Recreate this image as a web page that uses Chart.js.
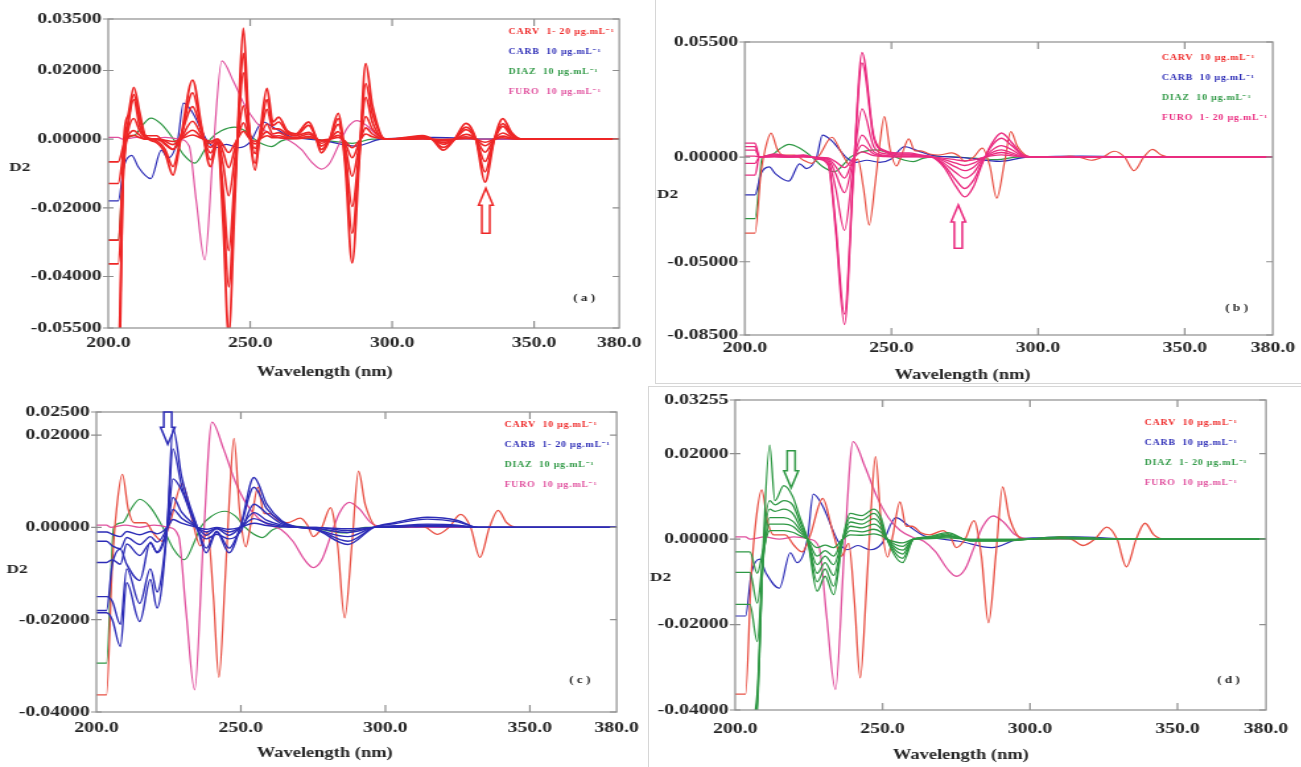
<!DOCTYPE html>
<html>
<head>
<meta charset="utf-8">
<script src="https://cdn.jsdelivr.net/npm/chart.js@4.4.0/dist/chart.umd.min.js"></script>
<style>
  html, body { margin: 0; padding: 0; background: #fff; }
  body { width: 1301px; height: 767px; position: relative; overflow: hidden; }
  /* the source figure is stretched sideways, so each panel is drawn narrow and scaled */
  .panel { position: absolute; transform-origin: 0 0; transform: scaleX(1.32); }
  .rule { position: absolute; background: #d6d6d6; }
</style>
</head>
<body>
<div class="rule" style="left:655px;top:0;width:1px;height:383px"></div>
<div class="rule" style="left:655px;top:383px;width:646px;height:1px"></div>
<div class="rule" style="left:648px;top:386px;width:653px;height:1px"></div>
<div class="rule" style="left:648px;top:386px;width:1px;height:381px"></div>

<div class="panel" style="left:0;top:0;width:492px;height:385px"><canvas id="ca"></canvas></div>
<div class="panel" style="left:655px;top:0;width:489px;height:383px"><canvas id="cb"></canvas></div>
<div class="panel" style="left:0;top:385px;width:491px;height:382px"><canvas id="cc"></canvas></div>
<div class="panel" style="left:648px;top:386px;width:495px;height:381px"><canvas id="cd"></canvas></div>

<script>
// wavelength grids (nm), one per drug
const wlCarv = [200, 203.5, 205.5, 207, 209, 211, 213, 217, 220, 222.8, 225.5, 229.7, 233, 236, 238.5, 240.5, 242.4, 244.5, 246, 247.6, 249.5, 251.7, 253.5, 255.9, 258, 260, 263, 266, 270.6, 273, 275, 278, 281, 283.5, 285.9, 288.5, 290.7, 293, 297.6, 305, 310.7, 314, 318, 322, 326, 329.5, 332.7, 336, 339, 342, 345.5, 360, 380];
const wlCarb = [200, 203.5, 205.5, 208.3, 210.5, 215, 218.7, 221, 224.5, 226.5, 229.5, 234.9, 238, 241.6, 245.9, 249.8, 254.5, 259, 264, 268, 276, 287, 296, 303, 314.5, 325, 332, 345, 380];
const wlDiaz = [200, 203.5, 206, 209, 212, 215, 218.5, 223, 226.5, 230.5, 234, 236, 240, 244.5, 248, 251.5, 254.5, 257.5, 261, 268, 278, 286, 293, 310, 330, 380];
const wlDiazD = [200, 205, 207.5, 209.5, 211.7, 213.5, 216.5, 219.5, 222, 224.5, 227.8, 230.5, 233.4, 236.5, 239, 243, 247, 249.5, 251.5, 256.8, 260.5, 265, 272, 280, 290, 310, 330, 380];
const wlFuro = [200, 203.5, 205, 210, 215, 220, 225, 228.5, 231, 234, 237, 240, 244, 248, 252, 256, 260, 264, 268, 272, 275, 278, 281, 284, 287.5, 291, 295, 300, 330, 380];

// D2 values, in units of 0.001
const carv20 = [-75, -75, 0, 7, 15.1, 8, 1, -1, -4, -10.5, 0, 17.2, 3, -8, -1, -25, -57, -20, 10, 32.3, 5, -9, 2, 14.8, 5, 6.4, 2.5, 1.5, 5, 1, -4, 0, 7.5, -8, -36, -5, 22, 10, 0, 0.5, 1, 0, -3.2, 0, 4.6, 0, -12.5, 0, 6, 2, 0, 0, 0];
const carv15 = [-62, -62, -4, 5, 13, 6, 1, -0.5, -3, -8, 0, 13.5, 2.5, -6, -1, -19, -43, -15, 7.5, 25, 4, -7, 1.5, 11.5, 4, 5, 2, 1, 4, 0.8, -3, 0, 6, -6, -27.4, -4, 16.2, 7.5, 0, 0.4, 0.8, 0, -2.4, 0, 3.5, 0, -9.5, 0, 4.5, 1.5, 0, 0, 0];
const carv10 = [-36.3, -36.3, -8, 4, 11.5, 4, 1, 1, -1.5, -3, 1, 9.5, 2, -4, -1, -15, -32.5, -12, 6, 19.3, 4, -4.2, 1, 8.7, 3, 3, 1.5, 1, 2, 0.5, -2, 0, 4.3, -4, -19.6, -3, 12.2, 5, 0, 0, 0.5, 0, -1.5, 0, 2.8, 0, -6.5, 0, 3.7, 1, 0, 0, 0];
const carv6 = [-29.4, -29.4, -6, 2.5, 6, 2.5, 0.5, 0, -1.2, -3, 0, 5.2, 1, -2.4, -0.5, -7.5, -16.5, -6, 3, 9.7, 1.5, -2.7, 0.6, 4.4, 1.5, 1.9, 0.8, 0.5, 1.5, 0.3, -1.2, 0, 2.2, -2.4, -10.8, -1.5, 6.6, 3, 0, 0, 0.3, 0, -1, 0, 1.4, 0, -3.8, 0, 1.8, 0.6, 0, 0, 0];
const carv3 = [-12.9, -12.9, -3, 1, 2.5, 1.2, 0, 0, -0.6, -1.6, 0, 2.6, 0.5, -1.2, 0, -3.8, -8.3, -3, 1.5, 4.8, 0.8, -1.4, 0.3, 2.2, 0.8, 1, 0.4, 0.2, 0.8, 0.2, -0.6, 0, 1.1, -1.2, -5.4, -0.8, 3.3, 1.5, 0, 0, 0.2, 0, -0.5, 0, 0.7, 0, -1.9, 0, 0.9, 0.3, 0, 0, 0];
const carv1 = [-6.6, -6.6, -1.5, 0.5, 1.1, 0.5, 0, 0, -0.3, -0.7, 0, 1.2, 0.2, -0.6, 0, -1.8, -3.9, -1.4, 0.7, 2.3, 0.4, -0.6, 0.1, 1, 0.4, 0.4, 0.2, 0.1, 0.4, 0.1, -0.3, 0, 0.5, -0.6, -2.5, -0.4, 1.5, 0.7, 0, 0, 0.1, 0, -0.2, 0, 0.3, 0, -0.9, 0, 0.4, 0.1, 0, 0, 0];

const carb20 = [-18.5, -18.5, -20, -25.8, -12, -20.4, -11.3, -17.5, 0, 21.5, 11, 0, -5.5, -1, -5.5, 0, 10.8, 5, 1.5, 0.3, -0.5, -3.7, 0, 1, 2.2, 1.5, 0, 0, 0];
const carb16 = [-15, -15, -16, -21, -9, -16.5, -9, -14, 0, 17, 9, 0, -4.5, -0.8, -4.5, 0, 8.7, 4, 1.2, 0.2, -0.4, -3, 0, 0.8, 1.8, 1.2, 0, 0, 0];
const carb10 = [-18, -18, -8, -4.7, -8, -11.5, -3.2, -5.5, 0, 10.5, 8, -0.5, -2.5, -1.5, -2.5, -1, 5, 3, 0.8, 0.2, -0.5, -2, 0, 0.3, 0.5, 0.3, 0, 0, 0];
const carb6 = [-7.6, -7.6, -7, -8, -3.6, -6.1, -3.4, -5.3, 0, 6.5, 3.3, 0, -1.7, -0.3, -1.7, 0, 3.2, 1.5, 0.5, 0.1, -0.2, -1.1, 0, 0.3, 0.7, 0.5, 0, 0, 0];
const carb3 = [-3, -3, -4, -4.6, -2.2, -3.7, -2, -3.2, 0, 3.9, 2, 0, -1, -0.2, -1, 0, 1.9, 0.9, 0.3, 0, 0, -0.7, 0, 0.2, 0.4, 0.3, 0, 0, 0];
const carb1 = [-1, -1, -1.5, -2, -0.9, -1.6, -0.9, -1.4, 0, 1.7, 0.9, 0, -0.4, 0, -0.4, 0, 0.9, 0.4, 0.1, 0, 0, -0.3, 0, 0, 0.2, 0.1, 0, 0, 0];

const diaz10 = [-29.4, -29.4, 0, 1, 4, 6.1, 4.5, 0, -4.5, -7, -3, 0, 2.5, 3.5, 2.5, 0, -1.5, -2.2, -0.5, 0.3, -0.5, -1.2, 0, 0, 0, 0];
const diaz20 = [-48, -48, -40, -2, 22, 9, 12.5, 10, 5, 0, -12.2, -8.7, -13, 0, 6, 5.5, 7, 5, 0, -5.5, 0, 0.5, 1.5, -0.5, -0.5, 0.5, 0, 0];
const diaz15 = [-45, -45, -38, -3, 9, 8, 9, 8, 4, 0, -10, -7, -11, 0, 5, 4.5, 6, 4, 0, -4.5, 0, 0.4, 1.2, -0.4, -0.4, 0.4, 0, 0];
const diaz10d = [-43, -43, -36, -4, 7, 6.5, 7, 6, 3, 0, -8, -5.5, -8.5, 0, 4, 3.5, 4.8, 3.2, 0, -3.5, 0, 0.3, 0.9, -0.3, -0.3, 0.3, 0, 0];
const diaz6 = [-15.3, -15.3, -24, -5, 5, 5, 5, 4.2, 2.2, 0, -6, -4, -6, 0, 3, 2.6, 3.5, 2.4, 0, -2.6, 0, 0.2, 0.7, -0.2, -0.2, 0.2, 0, 0];
const diaz3 = [-7.8, -7.8, -15, -4, 3.5, 3.5, 3.5, 3, 1.5, 0, -4, -2.7, -4, 0, 2, 1.7, 2.3, 1.6, 0, -1.7, 0, 0.1, 0.5, -0.1, -0.1, 0.1, 0, 0];
const diaz1 = [-3, -3, -8, -2.5, 2, 2, 2, 1.6, 0.8, 0, -2, -1.4, -2, 0, 1, 0.9, 1.2, 0.8, 0, -0.9, 0, 0.1, 0.3, -0.1, -0.1, 0.1, 0, 0];

const furo10 = [0.5, 0.5, 0, 0.5, 0, 0.5, 0, -2, -18, -35.2, -3, 22.8, 17, 10, 5, 2, 0.5, -0.5, -3, -7, -8.7, -7, -2, 3, 5.4, 4, 1, 0, 0, 0];
const furo20 = [6.7, 6.7, 0, 1.5, 0.5, 1, -1, -4, -35, -80, -10, 50, 10, 3, 2, 2, 1, 0, -5, -14, -19, -14, -3, 6, 11.5, 7, 1, 0, 0, 0];
const furo15 = [5, 5, 0, 1, 0.4, 0.8, -0.8, -3, -32, -75, -9, 45, 9, 2.5, 1.5, 1.5, 0.8, 0, -4, -11, -15, -11, -2.5, 5, 9, 5.5, 0.8, 0, 0, 0];
const furo10b = [3.3, 3.3, 0, 0.6, 0.2, 0.4, -0.5, -2, -15, -35, -4, 23, 5, 1.5, 1, 1, 0.5, 0, -3, -7.5, -10, -7.5, -1.5, 3, 5.5, 3.5, 0.5, 0, 0, 0];
const furo6 = [-8.6, -8.6, 0, 0.4, 0.1, 0.3, -0.3, -1.2, -8, -17, -2, 10.5, 2.5, 0.8, 0.5, 0.5, 0.3, 0, -2, -4.8, -6.5, -4.8, -1, 2, 3.5, 2, 0.3, 0, 0, 0];
const furo3 = [-3, -3, 0, 0.2, 0, 0.2, -0.2, -0.8, -4.5, -10, -1, 5.7, 1.5, 0.5, 0.3, 0.3, 0.2, 0, -1.2, -2.9, -4, -2.9, -0.6, 1.2, 2.2, 1.2, 0.2, 0, 0, 0];
const furo1 = [0.5, 0.5, 0, 0.1, 0, 0.1, -0.1, -0.4, -2.2, -5, -0.5, 2.5, 0.7, 0.2, 0.1, 0.1, 0.1, 0, -0.6, -1.3, -1.8, -1.3, -0.3, 0.6, 1.1, 0.6, 0.1, 0, 0, 0];

// axis ticks
const xTicks = [200, 250, 300, 350, 380];
const yTicksA = [35, 20, 0, -20, -40, -55];
const yTicksB = [55, 0, -50, -85];
const yTicksC = [25, 20, 0, -20, -40];
const yTicksD = [32.55, 20, 0, -20, -40];

const RED = '#ee2626';
const RED_SOFT = '#e85044';
const BLUE = '#2c2cb6';
const GREEN = '#2e9844';
const PINK = '#e0509e';
const PINK_HOT = '#ea2c80';
const INK = '#262626';
const FRAME = '#8e8e8e';
const SERIF = '"Liberation Serif", "Times New Roman", serif';

const line = (wl, vals, color, w) => ({
    data: wl.map((x, i) => ({ x: x, y: vals[i] })),
    borderColor: color,
    borderWidth: w,
    pointRadius: 0,
    cubicInterpolationMode: 'monotone',
    fill: false
});

const conc = ' µg.mL⁻¹';

const panels = [
    {
        id: 'ca', yMin: -55, yMax: 35, yTicks: yTicksA,
        padTop: 19, padRight: 17, yW: 82, xH: 57, tickPadX: 6,
        sets: [
            line(wlCarv, carv20, RED, 1.8), line(wlCarv, carv15, RED, 1.7), line(wlCarv, carv10, RED, 1.7),
            line(wlCarv, carv6, RED, 1.6), line(wlCarv, carv3, RED, 1.6), line(wlCarv, carv1, RED, 1.6),
            line(wlFuro, furo10, PINK, 1.2), line(wlCarb, carb10, BLUE, 1.2), line(wlDiaz, diaz10, GREEN, 1.2)
        ],
        legend: [['CARV  1- 20' + conc, RED], ['CARB  10' + conc, BLUE], ['DIAZ  10' + conc, GREEN], ['FURO  10' + conc, PINK]],
        legX: 84, legY: 13, letter: '( a )', letX: 35, letY: 30, d2: [7, 168], title: [246, 372],
        arrow: { wl: 333, tip: -14.3, tail: -27.4, color: RED }
    },
    {
        id: 'cb', yMin: -85, yMax: 55, yTicks: yTicksB,
        padTop: 42, padRight: 21, yW: 68, xH: 48, tickPadX: 4,
        sets: [
            line(wlFuro, furo20, PINK_HOT, 1.4), line(wlFuro, furo15, PINK_HOT, 1.4), line(wlFuro, furo10b, PINK_HOT, 1.3),
            line(wlFuro, furo6, PINK_HOT, 1.3), line(wlFuro, furo3, PINK_HOT, 1.3), line(wlFuro, furo1, PINK_HOT, 1.3),
            line(wlCarv, carv10, RED_SOFT, 1.2), line(wlCarb, carb10, BLUE, 1.2), line(wlDiaz, diaz10, GREEN, 1.2)
        ],
        legend: [['CARV  10' + conc, RED], ['CARB  10' + conc, BLUE], ['DIAZ  10' + conc, GREEN], ['FURO  1- 20' + conc, PINK_HOT]],
        legX: 84, legY: 16, letter: '( b )', letX: 36, letY: 27, d2: [1.5, 195], title: [233, 375],
        arrow: { wl: 272.8, tip: -22.9, tail: -43.5, color: PINK_HOT }
    },
    {
        id: 'cc', yMin: -40, yMax: 25, yTicks: yTicksC,
        padTop: 27, padRight: 20, yW: 73, xH: 55, tickPadX: 7,
        sets: [
            line(wlCarb, carb20, BLUE, 1.4), line(wlCarb, carb16, BLUE, 1.4), line(wlCarb, carb10, BLUE, 1.4),
            line(wlCarb, carb6, BLUE, 1.4), line(wlCarb, carb3, BLUE, 1.4), line(wlCarb, carb1, BLUE, 1.4),
            line(wlCarv, carv10, RED_SOFT, 1.3), line(wlFuro, furo10, PINK, 1.3), line(wlDiaz, diaz10, GREEN, 1.2)
        ],
        legend: [['CARV  10' + conc, RED], ['CARB  1- 20' + conc, BLUE], ['DIAZ  10' + conc, GREEN], ['FURO  10' + conc, PINK]],
        legX: 85, legY: 13, letter: '( c )', letX: 36, letY: 32, d2: [5, 185], title: [246, 368],
        arrow: { wl: 224.7, tip: 18, tail: 25, color: BLUE }
    },
    {
        id: 'cd', yMin: -40, yMax: 32.55, yTicks: yTicksD,
        padTop: 14, padRight: 20.5, yW: 66, xH: 57, tickPadX: 10,
        sets: [
            line(wlDiazD, diaz20, GREEN, 1.3), line(wlDiazD, diaz15, GREEN, 1.3), line(wlDiazD, diaz10d, GREEN, 1.3),
            line(wlDiazD, diaz6, GREEN, 1.3), line(wlDiazD, diaz3, GREEN, 1.3), line(wlDiazD, diaz1, GREEN, 1.3),
            line(wlCarv, carv10, RED_SOFT, 1.3), line(wlFuro, furo10, PINK, 1.3), line(wlCarb, carb10, BLUE, 1.2)
        ],
        legend: [['CARV  10' + conc, RED], ['CARB  10' + conc, BLUE], ['DIAZ  1- 20' + conc, GREEN], ['FURO  10' + conc, PINK]],
        legX: 92, legY: 23, letter: '( d )', letX: 37, letY: 30, d2: [1.5, 192], title: [237, 369],
        arrow: { wl: 219, tip: 12, tail: 20.7, color: GREEN }
    }
];

// frame, inward ticks, legend text, labels and the arrow
function drawExtras(chart, p) {
    const ctx = chart.ctx;
    const a = chart.chartArea;
    const xs = chart.scales.x;
    const ys = chart.scales.y;
    ctx.save();

    ctx.strokeStyle = FRAME;
    ctx.lineWidth = 1.2;
    ctx.strokeRect(a.left, a.top, a.right - a.left, a.bottom - a.top);
    ctx.beginPath();
    xTicks.slice(1, -1).forEach(v => {
        const x = xs.getPixelForValue(v);
        ctx.moveTo(x, a.top); ctx.lineTo(x, a.top + 7);
        ctx.moveTo(x, a.bottom); ctx.lineTo(x, a.bottom - 7);
    });
    p.yTicks.forEach(v => {
        const y = ys.getPixelForValue(v);
        ctx.moveTo(a.left - 4, y); ctx.lineTo(a.left + 4, y);
        ctx.moveTo(a.right, y); ctx.lineTo(a.right - 5, y);
    });
    ctx.stroke();

    // hollow arrow
    const ar = p.arrow;
    const ax = xs.getPixelForValue(ar.wl);
    const tip = ys.getPixelForValue(ar.tip);
    const tail = ys.getPixelForValue(ar.tail);
    const hl = (tail > tip ? 1 : -1) * 17;
    ctx.beginPath();
    ctx.moveTo(ax, tip);
    ctx.lineTo(ax + 5.5, tip + hl);
    ctx.lineTo(ax + 3, tip + hl);
    ctx.lineTo(ax + 3, tail);
    ctx.lineTo(ax - 3, tail);
    ctx.lineTo(ax - 3, tip + hl);
    ctx.lineTo(ax - 5.5, tip + hl);
    ctx.closePath();
    ctx.strokeStyle = ar.color;
    ctx.lineWidth = 1.5;
    ctx.stroke();

    // legend
    ctx.textAlign = 'left';
    ctx.textBaseline = 'middle';
    ctx.font = 'bold 7.5px ' + SERIF;
    if ('letterSpacing' in ctx) ctx.letterSpacing = '0.6px';
    p.legend.forEach((it, i) => {
        ctx.fillStyle = it[1];
        ctx.fillText(it[0], a.right - p.legX, a.top + p.legY + i * 20);
    });
    if ('letterSpacing' in ctx) ctx.letterSpacing = '0px';

    ctx.fillStyle = INK;
    ctx.font = 'bold 10px ' + SERIF;
    ctx.fillText(p.letter, a.right - p.letX, a.bottom - p.letY);

    ctx.font = 'bold 13px ' + SERIF;
    ctx.fillText('D2', p.d2[0], p.d2[1]);

    ctx.textAlign = 'center';
    ctx.font = 'bold 14px ' + SERIF;
    ctx.fillText('Wavelength (nm)', p.title[0], p.title[1]);
    ctx.restore();
}

function makeChart(p) {
    const tickFont = { family: SERIF, weight: 'bold', size: 15 };
    new Chart(document.getElementById(p.id), {
        type: 'line',
        data: { datasets: p.sets },
        options: {
            responsive: true,
            maintainAspectRatio: false,
            animation: false,
            layout: { padding: { top: p.padTop, right: p.padRight, left: 0, bottom: 0 } },
            plugins: { legend: { display: false }, tooltip: { enabled: false } },
            scales: {
                x: {
                    type: 'linear', min: 200, max: 380,
                    afterBuildTicks: s => { s.ticks = xTicks.map(v => ({ value: v })); },
                    afterFit: s => { s.height = p.xH; },
                    grid: { display: false, drawTicks: false },
                    border: { display: false },
                    ticks: { autoSkip: false, maxRotation: 0, padding: p.tickPadX, color: INK, font: tickFont,
                             callback: v => v.toFixed(1) }
                },
                y: {
                    type: 'linear', min: p.yMin, max: p.yMax,
                    afterBuildTicks: s => { s.ticks = p.yTicks.map(v => ({ value: v })); },
                    afterFit: s => { s.width = p.yW; },
                    grid: { display: false, drawTicks: false },
                    border: { display: false },
                    ticks: { padding: 5, color: INK, font: tickFont,
                             callback: v => (v / 1000).toFixed(5) }
                }
            }
        },
        plugins: [{ id: 'extras', afterDraw: c => drawExtras(c, p) }]
    });
}

panels.forEach(makeChart);
</script>
</body>
</html>
